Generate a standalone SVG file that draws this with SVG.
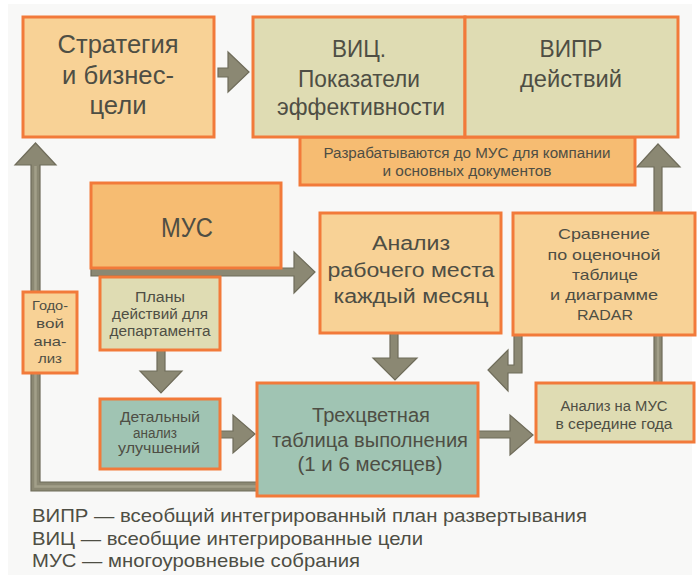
<svg xmlns="http://www.w3.org/2000/svg" width="700" height="579" viewBox="0 0 700 579">
<style>
.bx{stroke:#f27a3a;stroke-width:3}
.peach{fill:#f8d296}
.orange{fill:#f6bc72}
.beige{fill:#dfdcb3}
.teal{fill:#a0c4b3}
.t{font-family:"Liberation Sans",Arial,sans-serif;fill:#4e4e44;text-anchor:middle}
.lg{font-family:"Liberation Sans",Arial,sans-serif;fill:#4e4e44;font-size:19px}
.ar{fill:#8b8873;stroke:#6f6c5a;stroke-width:1.2;stroke-linejoin:miter}
.hl{fill:none;stroke:#a29f89;stroke-width:2.5}
</style>
<rect x="0" y="0" width="700" height="579" fill="#ffffff"/>
<rect x="8" y="4" width="684" height="571" fill="#f8f8f7"/>

<g id="connectors">
  <polygon class="ar" points="218,68 228,68 228,52 249,72 228,92 228,77 218,77"/>
  <polygon class="ar" points="91,268 294,268 294,252 315,272 294,293 294,276 91,276"/>
  <polygon class="ar" points="157,350 165,350 165,371 182,371 161,393 140,371 157,371"/>
  <polygon class="ar" points="220,431 233,431 233,415 255,434 233,453 233,438 220,438"/>
  <polygon class="ar" points="478,431 510,431 510,415 533,435 510,455 510,438 478,438"/>
  <polygon class="ar" points="390,333 398,333 398,358 417,358 395,380 373,358 390,358"/>
  <polygon class="ar" points="514,335 522,335 522,373 508,373 508,391 488,370 508,350 508,365 514,365"/>
  <polygon class="ar" points="654,335 662,335 662,383 654,383"/>
  <polygon class="ar" points="654,213 662,213 662,167 680,167 658,144 637,167 654,167"/>
  <polygon class="ar" points="257,491 31,491 31,165 15,165 35.5,143 56,165 40,165 40,482 257,482"/>
  <path class="hl" d="M257,486.5 H35.5 V166"/>
  <path class="hl" d="M658,336 V382"/>
</g>

<g id="strategy">
  <rect class="bx peach" x="23" y="17" width="191" height="120"/>
  <text class="t" font-size="25" x="118" y="53" textLength="121" lengthAdjust="spacingAndGlyphs">Стратегия</text>
  <text class="t" font-size="25" x="118" y="84" textLength="112" lengthAdjust="spacingAndGlyphs">и бизнес-</text>
  <text class="t" font-size="25" x="118" y="114" textLength="57" lengthAdjust="spacingAndGlyphs">цели</text>
</g>

<g id="band">
  <rect class="bx orange" x="300" y="137" width="335" height="48"/>
  <text class="t" font-size="14" x="467" y="158" textLength="287" lengthAdjust="spacingAndGlyphs">Разрабатываются до МУС для компании</text>
  <text class="t" font-size="14" x="467" y="176" textLength="169" lengthAdjust="spacingAndGlyphs">и основных документов</text>
</g>

<g id="vic">
  <rect class="bx beige" x="253" y="17" width="212" height="120"/>
  <text class="t" font-size="23" x="359" y="57" textLength="54" lengthAdjust="spacingAndGlyphs">ВИЦ.</text>
  <text class="t" font-size="23" x="359" y="87" textLength="122" lengthAdjust="spacingAndGlyphs">Показатели</text>
  <text class="t" font-size="23" x="361" y="115" textLength="168" lengthAdjust="spacingAndGlyphs">эффективности</text>
</g>

<g id="vipr">
  <rect class="bx beige" x="465" y="17" width="213" height="120"/>
  <text class="t" font-size="23" x="571" y="57" textLength="63" lengthAdjust="spacingAndGlyphs">ВИПР</text>
  <text class="t" font-size="23" x="571" y="87" textLength="102" lengthAdjust="spacingAndGlyphs">действий</text>
</g>

<g id="mus">
  <rect class="bx orange" x="91" y="183" width="190" height="85"/>
  <text class="t" font-size="27" x="187" y="237" textLength="52" lengthAdjust="spacingAndGlyphs">МУС</text>
</g>

<g id="plans">
  <rect class="bx beige" x="100" y="277" width="120" height="73"/>
  <text class="t" font-size="14" x="160" y="302" textLength="50" lengthAdjust="spacingAndGlyphs">Планы</text>
  <text class="t" font-size="14" x="160" y="319" textLength="96" lengthAdjust="spacingAndGlyphs">действий для</text>
  <text class="t" font-size="14" x="160" y="336" textLength="101" lengthAdjust="spacingAndGlyphs">департамента</text>
</g>

<g id="annual">
  <rect class="bx peach" x="23" y="292" width="54" height="81"/>
  <text class="t" font-size="13" x="50" y="310" textLength="36" lengthAdjust="spacingAndGlyphs">Годо-</text>
  <text class="t" font-size="13" x="50" y="328" textLength="28" lengthAdjust="spacingAndGlyphs">вой</text>
  <text class="t" font-size="13" x="50" y="346" textLength="33" lengthAdjust="spacingAndGlyphs">ана-</text>
  <text class="t" font-size="13" x="50" y="363" textLength="24" lengthAdjust="spacingAndGlyphs">лиз</text>
</g>

<g id="workplace">
  <rect class="bx peach" x="320" y="213" width="181" height="120"/>
  <text class="t" font-size="20" x="411" y="250" textLength="78" lengthAdjust="spacingAndGlyphs">Анализ</text>
  <text class="t" font-size="20" x="411" y="277" textLength="167" lengthAdjust="spacingAndGlyphs">рабочего места</text>
  <text class="t" font-size="20" x="411" y="303" textLength="155" lengthAdjust="spacingAndGlyphs">каждый месяц</text>
</g>

<g id="compare">
  <rect class="bx peach" x="513" y="213" width="182" height="122"/>
  <text class="t" font-size="15" x="604" y="239" textLength="92" lengthAdjust="spacingAndGlyphs">Сравнение</text>
  <text class="t" font-size="15" x="604" y="260" textLength="113" lengthAdjust="spacingAndGlyphs">по оценочной</text>
  <text class="t" font-size="15" x="605" y="280" textLength="66" lengthAdjust="spacingAndGlyphs">таблице</text>
  <text class="t" font-size="15" x="604" y="300" textLength="108" lengthAdjust="spacingAndGlyphs">и диаграмме</text>
  <text class="t" font-size="15" x="605" y="320" textLength="56" lengthAdjust="spacingAndGlyphs">RADAR</text>
</g>

<g id="detail">
  <rect class="bx teal" x="100" y="399" width="120" height="70"/>
  <text class="t" font-size="14" x="160" y="422" textLength="80" lengthAdjust="spacingAndGlyphs">Детальный</text>
  <text class="t" font-size="14" x="155" y="438" textLength="44" lengthAdjust="spacingAndGlyphs">анализ</text>
  <text class="t" font-size="14" x="159" y="453" textLength="82" lengthAdjust="spacingAndGlyphs">улучшений</text>
</g>

<g id="tricolor">
  <rect class="bx teal" x="257" y="383" width="221" height="113"/>
  <text class="t" font-size="20" x="371" y="422" textLength="118" lengthAdjust="spacingAndGlyphs">Трехцветная</text>
  <text class="t" font-size="20" x="370" y="447" textLength="196" lengthAdjust="spacingAndGlyphs">таблица выполнения</text>
  <text class="t" font-size="20" x="370" y="471" textLength="145" lengthAdjust="spacingAndGlyphs">(1 и 6 месяцев)</text>
</g>

<g id="midyear">
  <rect class="bx beige" x="536" y="383" width="158" height="59"/>
  <text class="t" font-size="14" x="614" y="411" textLength="107" lengthAdjust="spacingAndGlyphs">Анализ на МУС</text>
  <text class="t" font-size="14" x="614" y="429" textLength="117" lengthAdjust="spacingAndGlyphs">в середине года</text>
</g>

<g id="legend">
  <text class="lg" x="32" y="522" textLength="555" lengthAdjust="spacingAndGlyphs">ВИПР — всеобщий интегрированный план развертывания</text>
  <text class="lg" x="32" y="545" textLength="391" lengthAdjust="spacingAndGlyphs">ВИЦ — всеобщие интегрированные цели</text>
  <text class="lg" x="32" y="567" textLength="328" lengthAdjust="spacingAndGlyphs">МУС — многоуровневые собрания</text>
</g>
</svg>
